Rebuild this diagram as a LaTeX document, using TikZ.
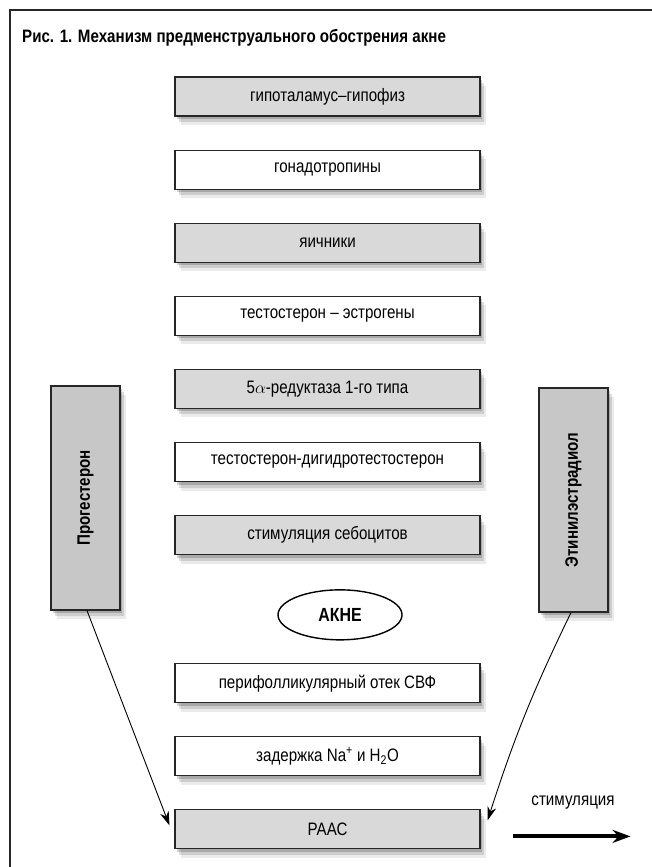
\documentclass[tikz,border=0pt]{standalone}
\usepackage{fontspec}
\setmainfont[FakeStretch=0.84]{Liberation Sans}
\usetikzlibrary{positioning,shapes.geometric,shadows,arrows.meta}

\begin{document}
\begin{tikzpicture}[
    x=1pt, y=1pt,
    node distance=33pt,
    every node/.style={font=\fontsize{18}{21}\selectfont},
    softshadow/.style={
        drop shadow={shadow xshift=2pt, shadow yshift=-3pt, fill=black, opacity=0.18},
        drop shadow={shadow xshift=4pt, shadow yshift=-6pt, fill=black, opacity=0.13},
        drop shadow={shadow xshift=6pt, shadow yshift=-9pt, fill=black, opacity=0.08}},
    box/.style={draw=black!85, line width=1.1pt, minimum width=305pt, minimum height=39pt, inner sep=0pt, align=center, softshadow},
    graybox/.style={box, fill=black!15},
    whitebox/.style={box, fill=white},
    sidebox/.style={draw=black!85, line width=1.1pt, fill=black!22, minimum width=69pt, minimum height=224pt, inner sep=0pt, softshadow},
    arrow/.style={line width=0.9pt, -{Stealth[length=14pt, width=9pt]}}
]
\useasboundingbox (0,0) rectangle (652,-867);

% рамка
\draw[line width=2.5pt, black!85] (652,-10) -- (10,-10) -- (10,-867);

% заголовок
\node[anchor=base west, inner sep=0pt, font=\bfseries\fontsize{18}{21}\selectfont] (title) at (22,-43) {Рис. 1. Механизм предменструального обострения акне};

% центральная колонка
\node[graybox] (hypo) at (327.5,-96.5) {гипоталамус–гипофиз};
\node[whitebox, below=of hypo] (gonad) {гонадотропины};
\node[graybox, below=of gonad] (ovary) {яичники};
\node[whitebox, below=of ovary] (testo) {тестостерон – эстрогены};
\node[graybox, below=of testo] (reductase) {5$\alpha$-редуктаза 1-го типа};
\node[whitebox, below=of reductase] (dht) {тестостерон-дигидротестостерон};
\node[graybox, below=of dht] (sebo) {стимуляция себоцитов};

\node[ellipse, draw, line width=1.4pt, fill=white, minimum width=124pt, minimum height=50pt, inner sep=0pt,
      font=\bfseries\fontsize{19}{22}\selectfont, below=34pt of sebo, xshift=12.5pt] (acne) {АКНЕ};

\node[whitebox, below=108pt of sebo] (edema) {перифолликулярный отек СВФ};
\node[whitebox, below=of edema] (sodium) {задержка Na\textsuperscript{+} и H\textsubscript{2}O};
\node[graybox, below=of sodium] (raas) {РААС};

% боковые блоки
\node[sidebox] (prog) at (85.5,-498) {\rotatebox{90}{\bfseries Прогестерон}};
\node[sidebox] (estr) at (573.5,-500) {\rotatebox{90}{\bfseries Этинилэстрадиол}};

% стрелки
\draw[arrow] ([xshift=1.5pt]prog.south) -- ([shift={(-5pt,4pt)}]raas.west);
\draw[arrow] ([xshift=-2.5pt]estr.south) to[bend right=4] ([shift={(7pt,9pt)}]raas.east);

% стимуляция
\coordinate (stimstart) at ([shift={(32pt,-7pt)}]raas.east);
\coordinate (stimend) at ([shift={(150pt,-7pt)}]raas.east);
\draw[line width=4pt, -{Stealth[length=18pt, width=13pt]}] (stimstart) -- (stimend);
\node (stimlabel) at (573,-803) {стимуляция};

\end{tikzpicture}
\end{document}
